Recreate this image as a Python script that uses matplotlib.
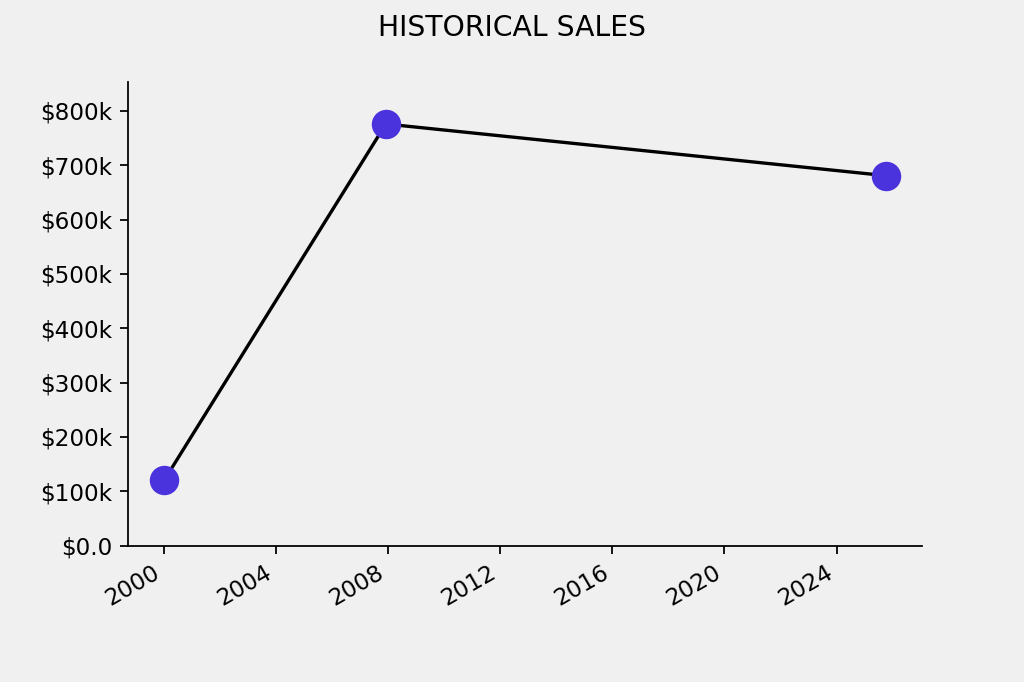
import matplotlib
matplotlib.use("Agg")
import matplotlib.pyplot as plt
import matplotlib.ticker as mticker
from datetime import datetime

# sales history
dates = [datetime(2000, 1, 1), datetime(2007, 12, 1), datetime(2025, 10, 1)]
sales = [120000, 776000, 681000]

bg = "#f0f0f0"

fig, ax = plt.subplots(figsize=(6.4, 4.2625), dpi=160)
fig.patch.set_facecolor(bg)
ax.set_facecolor(bg)

ax.plot(dates, sales, color="black", zorder=2)
ax.scatter(dates, sales, s=150, color="#4a32dc", zorder=3)

ax.set_ylim(0, max(sales) * 1.1)


def money(x, pos):
    if x == 0:
        return "$0.0"
    return "${:.0f}k".format(x / 1000)


ax.yaxis.set_major_formatter(mticker.FuncFormatter(money))
ax.yaxis.set_major_locator(mticker.MultipleLocator(100000))

for side in ["top", "right"]:
    ax.spines[side].set_visible(False)

ax.tick_params(labelsize=10.4)
fig.suptitle("HISTORICAL SALES", fontsize=12.7)
fig.autofmt_xdate()

fig.savefig("out.png", dpi=160, facecolor=bg)
